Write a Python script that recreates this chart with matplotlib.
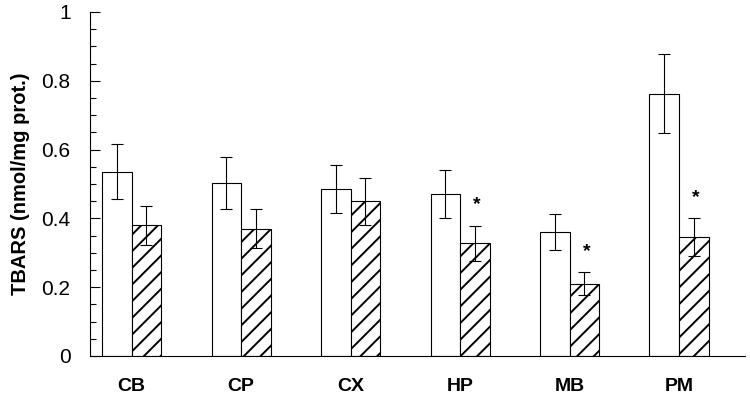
#!/usr/bin/env python3
# -*- coding: utf-8 -*-

import numpy as np
import matplotlib
matplotlib.use('Agg')
import matplotlib.pyplot as plt

plt.rcParams['font.family'] = ['Liberation Sans', 'DejaVu Sans']
plt.rcParams['hatch.linewidth'] = 1.4

regions = ['CB', 'CP', 'CX', 'HP', 'MB', 'PM']
control = [0.535, 0.502, 0.485, 0.471, 0.360, 0.762]
control_err = [0.080, 0.076, 0.070, 0.070, 0.053, 0.115]
treated = [0.380, 0.370, 0.450, 0.328, 0.210, 0.346]
treated_err = [0.057, 0.057, 0.068, 0.051, 0.033, 0.055]
signif = [False, False, False, True, True, True]

x = np.arange(len(regions))
w = 0.27

fig = plt.figure(figsize=(7.5, 3.99), dpi=100, facecolor='white')
ax = fig.add_axes((0.12, 0.108, 0.873, 0.862))

ax.bar(x - w/2, control, w, color='white', edgecolor='black', linewidth=0.8)
ax.bar(x + w/2, treated, w, color='white', edgecolor='black', linewidth=0.8, hatch='//')
ax.errorbar(x - w/2, control, yerr=control_err, fmt='none', ecolor='black',
            elinewidth=0.8, capsize=4, capthick=0.8)
ax.errorbar(x + w/2, treated, yerr=treated_err, fmt='none', ecolor='black',
            elinewidth=0.8, capsize=4, capthick=0.8)

for i in range(len(regions)):
  if signif[i]:
    ax.text(x[i] + w/2 + 0.02, treated[i] + treated_err[i] + 0.06, '*', ha='center',
            va='center', fontsize=14, fontweight='bold')

ax.set_xlim(-0.38, 5.6)
ax.set_ylim(0, 1)
ax.set_xticks(x)
ax.set_xticklabels(regions, fontweight='bold', fontsize=14)
ax.set_yticks(np.arange(0, 1.01, 0.2))
ax.set_yticklabels(['0', '0.2', '0.4', '0.6', '0.8', '1'], fontsize=15)
ax.set_yticks(np.arange(0, 1.01, 0.05), minor=True)
ax.tick_params(axis='y', which='major', direction='in', length=7, width=0.8, pad=14)
ax.tick_params(axis='y', which='minor', direction='in', length=4, width=0.8)
ax.tick_params(axis='x', length=0, pad=16)
ax.spines['top'].set_visible(False)
ax.spines['right'].set_visible(False)
ax.spines['left'].set_linewidth(0.8)
ax.spines['bottom'].set_linewidth(0.8)
ax.set_ylabel('TBARS (nmol/mg prot.)', fontweight='bold', fontsize=14.5, labelpad=8)

fig.savefig('out.png')
